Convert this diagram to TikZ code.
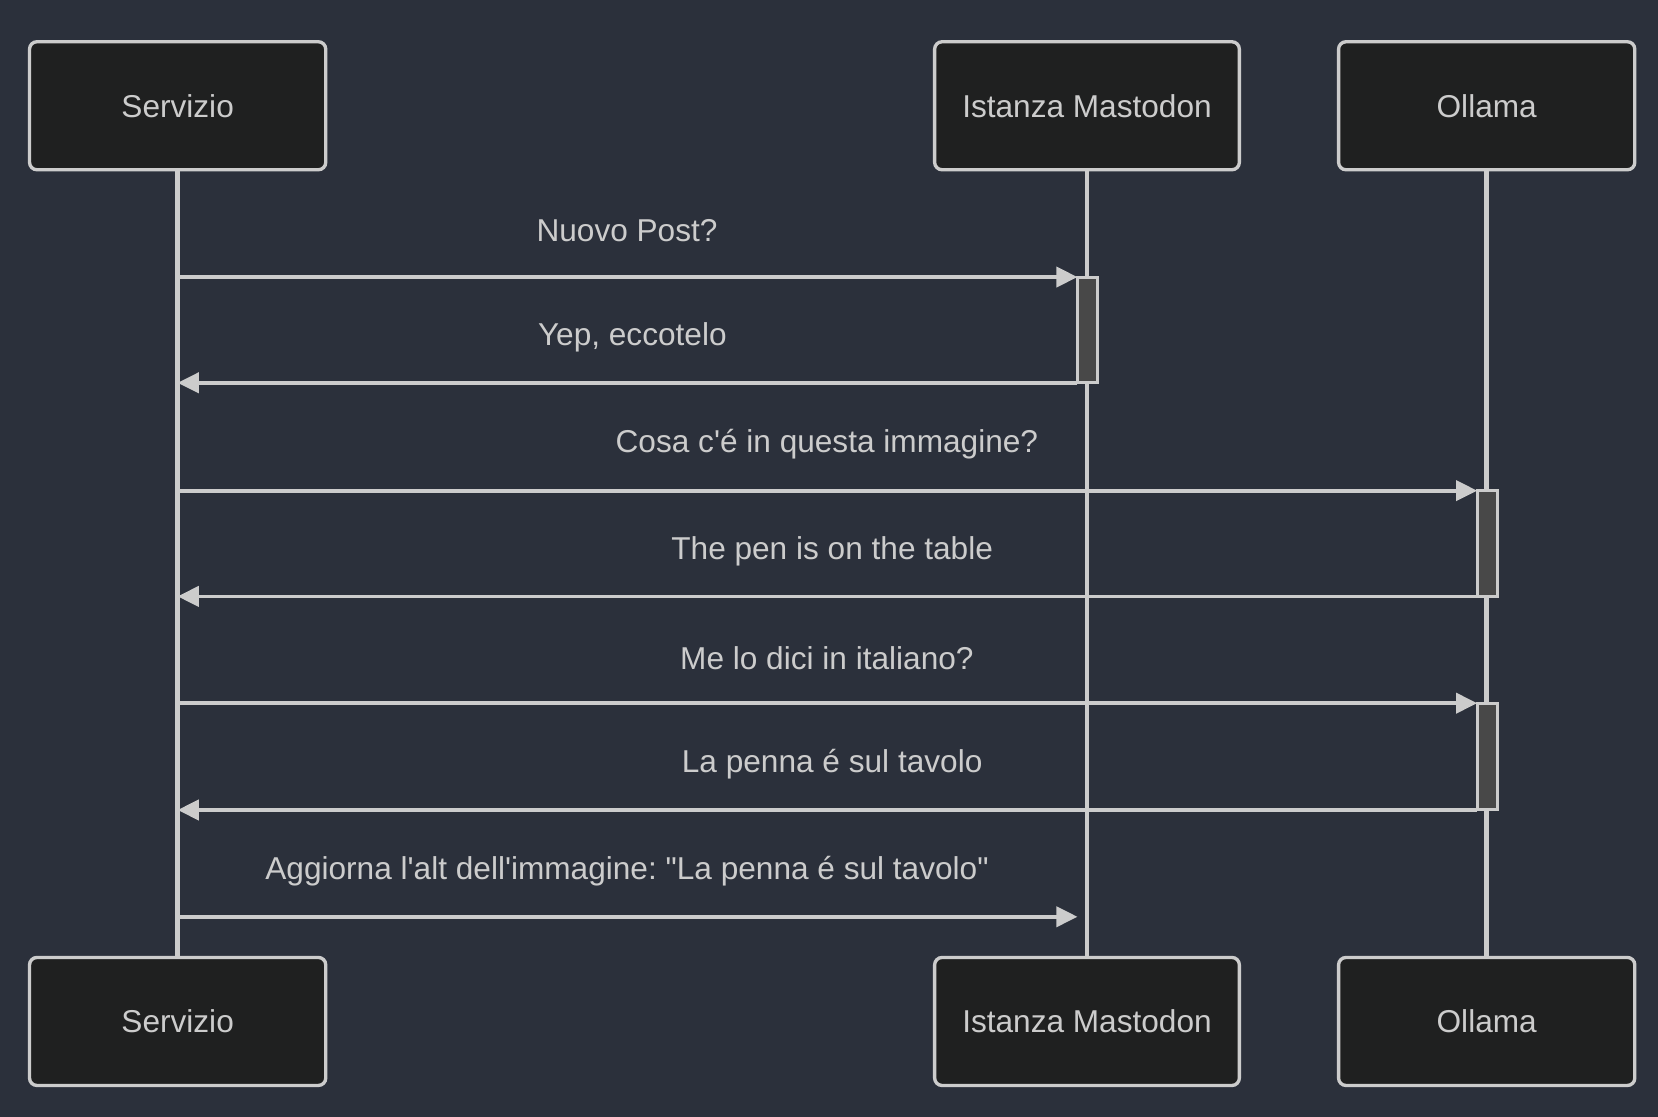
\documentclass[tikz,border=0pt]{standalone}
\usepackage{fontspec}
\setmainfont{Liberation Sans}[Ligatures=TeXOff]
\usetikzlibrary{arrows.meta}
\frenchspacing
\definecolor{bgcol}{HTML}{2B303B}
\definecolor{boxcol}{HTML}{1F2020}
\definecolor{linecol}{HTML}{CCCCCC}
\definecolor{actcol}{HTML}{484848}
\tikzset{
  actor/.style={draw=linecol, fill=boxcol, line width=0.9pt, rounded corners=2pt,
    minimum width=2.8cm, minimum height=1.21cm, text=linecol, font=\fontsize{8.5pt}{10pt}\selectfont},
  lifeline/.style={draw=linecol, line width=1.2pt},
  act/.style={draw=linecol, fill=actcol, line width=0.8pt},
  msg/.style={draw=linecol, line width=1pt, -{Triangle[length=0.2cm, width=0.19cm]}},
  lbl/.style={text=linecol, font=\fontsize{8.5pt}{10pt}\selectfont}
}
\begin{document}
\begin{tikzpicture}[x=0.01cm, y=-0.01cm]
  \fill[bgcol] (0,0) rectangle (1568,1056);
  \useasboundingbox (0,0) rectangle (1568,1056);
  % lifelines
  \draw[lifeline] (168,160) -- (168,905);
  \draw[lifeline] (1028,160) -- (1028,905);
  \draw[lifeline] (1406,160) -- (1406,905);
  % actors
  \node[actor] (servT) at (168,100) {Servizio};
  \node[actor, minimum width=2.88cm] (mastT) at (1028,100) {Istanza Mastodon};
  \node[actor] (ollT) at (1406,100) {Ollama};
  \node[actor] (servB) at (168,966) {Servizio};
  \node[actor, minimum width=2.88cm] (mastB) at (1028,966) {Istanza Mastodon};
  \node[actor] (ollB) at (1406,966) {Ollama};
  % activations
  \draw[act] (1019,262) rectangle (1038,362);
  \draw[act] (1397,464) rectangle (1416,564);
  \draw[act] (1397,665) rectangle (1416,766);
  % messages
  \coordinate (s1) at (168,262); \coordinate (m1) at (1019,262);
  \coordinate (s2) at (168,362); \coordinate (m2) at (1019,362);
  \coordinate (s3) at (168,464); \coordinate (o3) at (1397,464);
  \coordinate (s4) at (168,564); \coordinate (o4) at (1397,564);
  \coordinate (s5) at (168,665); \coordinate (o5) at (1397,665);
  \coordinate (s6) at (168,766); \coordinate (o6) at (1397,766);
  \coordinate (s7) at (168,867); \coordinate (m7) at (1019,867);
  \draw[msg] (s1) -- (m1);
  \draw[msg] (m2) -- (s2);
  \draw[msg] (s3) -- (o3);
  \draw[msg] (o4) -- (s4);
  \draw[msg] (s5) -- (o5);
  \draw[msg] (o6) -- (s6);
  \draw[msg] (s7) -- (m7);
  \node[lbl] (l1) at (593,218) {Nuovo Post?};
  \node[lbl] (l2) at (598,319) {Yep, eccotelo};
  \node[lbl] (l3) at (782,420) {Cosa c'é in questa immagine?};
  \node[lbl] (l4) at (787,521) {The pen is on the table};
  \node[lbl] (l5) at (782,622) {Me lo dici in italiano?};
  \node[lbl] (l6) at (787,723) {La penna é sul tavolo};
  \node[lbl] (l7) at (593,824) {Aggiorna l'alt dell'immagine: "La penna é sul tavolo"};
\end{tikzpicture}
\end{document}
